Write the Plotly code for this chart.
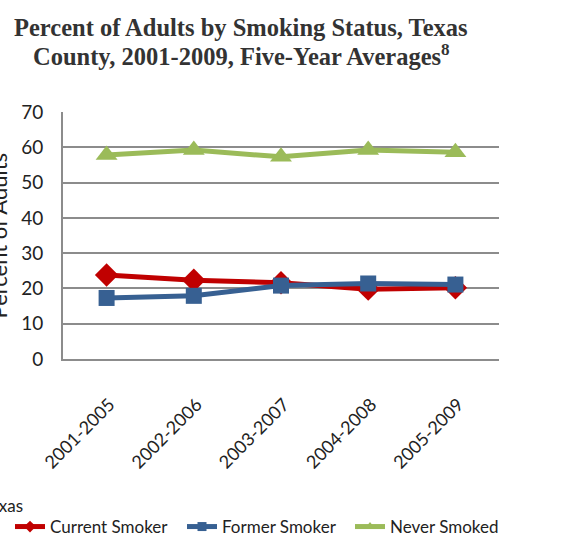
import plotly.graph_objects as go

periods = ["2001-2005", "2002-2006", "2003-2007", "2004-2008", "2005-2009"]
current_smoker = [23.8, 22.3, 21.6, 19.8, 20.2]
former_smoker = [17.3, 17.9, 20.8, 21.4, 21.1]
never_smoked = [57.8, 59.2, 57.3, 59.2, 58.6]

series_names = ["Current Smoker", "Former Smoker", "Never Smoked"]
series_colors = ["#C00000", "#376092", "#9BBB59"]
series_symbols = ["diamond", "square", "triangle-up"]
series_sizes = [18, 16, 19]

W, H = 569, 539
ML, MR, MT, MB = 63, 70, 112, 180
PW = W - ML - MR
PH = H - MT - MB


def px_x(p):
    return (p - ML) / PW


def px_y(p):
    return (H - MB - p) / PH


FONT = "Lato"
legend_ids = ["legend", "legend2", "legend3"]
legend_px = [10, 182, 350]

fig = go.Figure()
for name, vals, col, sym, sz in zip(series_names, [current_smoker, former_smoker, never_smoked],
                                    series_colors, series_symbols, series_sizes):
    fig.add_trace(go.Scatter(x=periods, y=vals, name=name, mode="lines+markers", showlegend=False,
                             line=dict(color=col, width=5),
                             marker=dict(symbol=sym, size=sz, color=col)))
# legend entries (smaller markers, as in the reference legend)
for name, col, sym, lg in zip(series_names, series_colors, series_symbols, legend_ids):
    fig.add_trace(go.Scatter(x=[None], y=[None], name=name, mode="lines+markers", legend=lg,
                             line=dict(color=col, width=5),
                             marker=dict(symbol=sym, size=9, color=col)))

legend_style = dict(orientation="h", xanchor="left", yanchor="middle", y=px_y(527),
                    font=dict(family=FONT, size=17, color="#222"), itemwidth=30,
                    bgcolor="rgba(0,0,0,0)")
fig.update_layout(
    width=W, height=H,
    margin=dict(l=ML, r=MR, t=MT, b=MB, autoexpand=False),
    paper_bgcolor="white", plot_bgcolor="white",
    font=dict(family=FONT, size=17, color="#222"),
    xaxis=dict(range=[-0.5, 4.5], showgrid=False, showline=True, linecolor="#8c8c8c", linewidth=2,
               tickangle=-45, ticks="", ticklabelstandoff=26, ticklabelshift=3,
               tickfont=dict(family=FONT, size=18, color="#222"), fixedrange=True),
    yaxis=dict(range=[0, 70], dtick=10, showgrid=True, gridcolor="#8c8c8c", gridwidth=2,
               showline=True, linecolor="#8c8c8c", linewidth=2, zeroline=False, ticks="",
               ticklabelstandoff=14,
               tickfont=dict(family=FONT, size=19, color="#222"), fixedrange=True),
    legend=dict(x=px_x(legend_px[0]), **legend_style),
    legend2=dict(x=px_x(legend_px[1]), **legend_style),
    legend3=dict(x=px_x(legend_px[2]), **legend_style),
    showlegend=True,
)

fig.add_annotation(text="Texas", xref="paper", yref="paper", x=px_x(-20), y=px_y(505),
                   xanchor="left", yanchor="middle", showarrow=False,
                   font=dict(family=FONT, size=17, color="#222"))

fig.add_annotation(text="<b>Percent of Adults by Smoking Status, Texas</b>",
                   xref="paper", yref="paper", x=px_x(241), y=px_y(28), xanchor="center", yanchor="middle",
                   showarrow=False, align="center",
                   font=dict(family="Liberation Serif", size=24.5, color="#333"))
fig.add_annotation(text="<b>County, 2001-2009, Five-Year Averages<sup>8</sup></b>",
                   xref="paper", yref="paper", x=px_x(241), y=px_y(55), xanchor="center", yanchor="middle",
                   showarrow=False, align="center",
                   font=dict(family="Liberation Serif", size=24.5, color="#333"))

fig.add_annotation(text="Percent of Adults", textangle=-90, xref="paper", yref="paper",
                   x=px_x(13), y=px_y(236), xanchor="right", yanchor="middle", showarrow=False,
                   font=dict(family=FONT, size=22, color="#222"))

fig.write_html("out.html", post_script="document.body.style.margin='0';",
               config={"displayModeBar": False})
